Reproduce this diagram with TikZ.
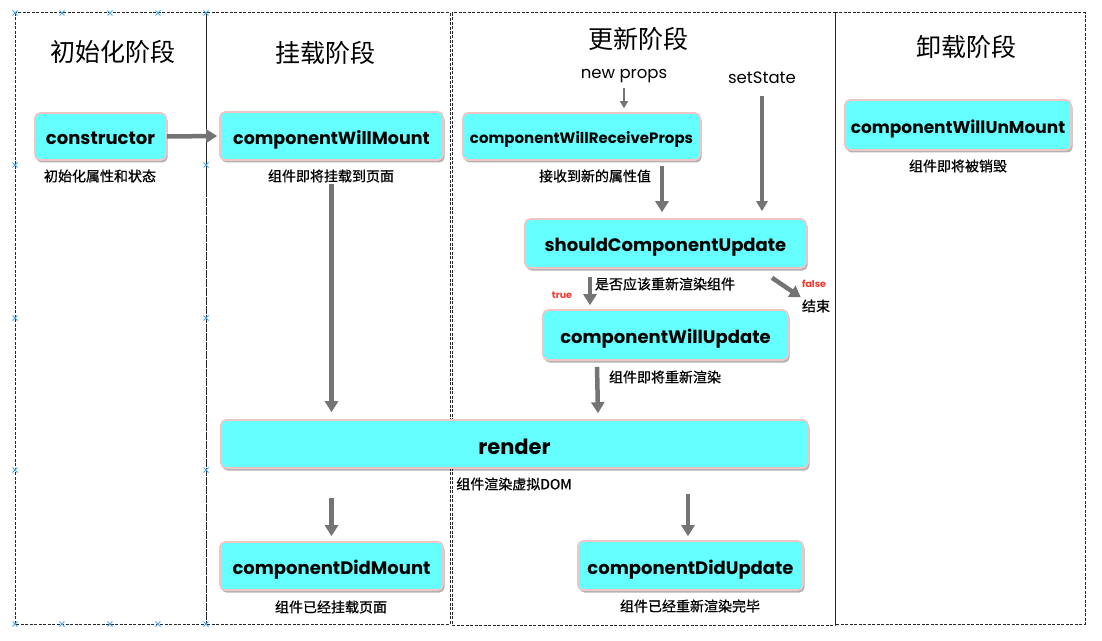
\documentclass[tikz,border=0pt]{standalone}
\usepackage{fontspec}
\setmainfont{Liberation Sans}
\newfontfamily\nodefont{Poppins}
\newfontfamily\cjk{Noto Sans CJK SC}[FakeBold=0.7]
\newfontfamily\cjktitle{Noto Sans CJK SC}
\usetikzlibrary{arrows.meta,shadows,calc}
\definecolor{boxcyan}{HTML}{66FFFF}
\definecolor{boxpink}{HTML}{F2C4C4}
\definecolor{arrgray}{HTML}{747474}
\definecolor{falsered}{HTML}{F03A2E}
\definecolor{handleblue}{HTML}{4AA8E8}
\tikzset{
  box/.style={rectangle, rounded corners=5bp, fill=boxcyan, draw=boxpink, line width=1.6bp,
    inner sep=0pt, text height=17bp, text depth=0bp,
    drop shadow={shadow xshift=1.5bp, shadow yshift=-2.5bp, fill=black, opacity=0.3}},
  lbl/.style={inner sep=0pt, font=\cjk\fontsize{14bp}{16bp}\selectfont},
  title/.style={inner sep=0pt, font=\cjktitle\fontsize{25bp}{28bp}\selectfont},
  src/.style={inner sep=0pt, font=\nodefont\fontsize{16.5bp}{18bp}\selectfont},
  tf/.style={inner sep=0pt, text=falsered, font=\nodefont\bfseries\fontsize{9.5bp}{10bp}\selectfont},
  panel/.style={draw=black!85, line width=1bp, dash pattern=on 3bp off 1.5bp},
  arr/.style={draw=arrgray, line width=4.5bp, -{Triangle[width=13bp,length=11bp]}},
  thinarr/.style={draw=arrgray, line width=2.2bp, -{Triangle[width=8bp,length=7bp]}},
  midarr/.style={draw=arrgray, line width=3.2bp, -{Triangle[width=11bp,length=10bp]}},
  handle/.style={draw=handleblue, line width=1bp},
}
\begin{document}
\begin{tikzpicture}[x=1bp,y=-1bp]
\useasboundingbox (0,0) rectangle (1102,641);
\fill[white] (0,0) rectangle (1102,641);

% panels
\draw[panel] (15,13) rectangle (206,624);
\draw[panel] (206,13) rectangle (450,624);
\draw[panel] (452,13) rectangle (835,625);
\draw[panel] (835,13) rectangle (1085,624);

% selection handles
\foreach \p in {(15,13),(62,13),(110,13),(158,13),(206,13),(15,165),(206,165),(15,318),(206,318),(15,470),(206,470),(15,624),(62,624),(110,624),(158,624),(206,624)}{
  \draw[handle] \p ++(-2.5,-2.5) -- ++(5,5) \p ++(-2.5,2.5) -- ++(5,-5);
}

% titles
\node[title] (t1) at (113,52) {初始化阶段};
\node[title] (t2) at (325,53) {挂载阶段};
\node[title] (t3) at (638,39) {更新阶段};
\node[title] (t4) at (966,47) {卸载阶段};

% boxes
\node[box, minimum width=131bp, minimum height=47bp, font=\nodefont\bfseries\fontsize{18bp}{20bp}\selectfont] (ctor) at (100.5,136.5) {constructor};
\node[box, minimum width=223bp, minimum height=48bp, font=\nodefont\bfseries\fontsize{17.5bp}{20bp}\selectfont] (cwm) at (331.5,136) {componentWillMount};
\node[box, minimum width=237bp, minimum height=47bp, font=\nodefont\bfseries\fontsize{15bp}{18bp}\selectfont, text height=15bp] (cwrp) at (581.5,136.5) {componentWillReceiveProps};
\node[box, minimum width=281bp, minimum height=49bp, font=\nodefont\bfseries\fontsize{18bp}{20bp}\selectfont] (scu) at (665.5,243.5) {shouldComponentUpdate};
\node[box, minimum width=245bp, minimum height=50bp, font=\nodefont\bfseries\fontsize{18bp}{20bp}\selectfont] (cwu) at (665.5,335) {componentWillUpdate};
\node[box, minimum width=587bp, minimum height=48bp, font=\nodefont\bfseries\fontsize{21bp}{24bp}\selectfont, text height=20bp] (render) at (514.5,444) {render};
\node[box, minimum width=223bp, minimum height=48bp, font=\nodefont\bfseries\fontsize{18bp}{20bp}\selectfont] (cdm) at (331.5,566) {componentDidMount};
\node[box, minimum width=225bp, minimum height=49bp, font=\nodefont\bfseries\fontsize{18bp}{20bp}\selectfont] (cdu) at (690.5,565.5) {componentDidUpdate};
\node[box, minimum width=226bp, minimum height=50bp, font=\nodefont\bfseries\fontsize{17bp}{20bp}\selectfont] (cwun) at (958,125) {componentWillUnMount};

% labels
\node[lbl] (l1) at (100,176) {初始化属性和状态};
\node[lbl] (l2) at (331,176) {组件即将挂载到页面};
\node[lbl] (l3) at (595,176) {接收到新的属性值};
\node[lbl] (l4) at (665,284) {是否应该重新渲染组件};
\node[lbl] (l5) at (665,377) {组件即将重新渲染};
\node[lbl] (l6) at (514,484) {组件渲染虚拟DOM};
\node[lbl] (l7) at (331,607) {组件已经挂载页面};
\node[lbl] (l8) at (690,606) {组件已经重新渲染完毕};
\node[lbl] (l9) at (958,166) {组件即将被销毁};
\node[lbl] (end) at (816,306) {结束};
\node[tf] (tt) at (562,295) {true};
\node[tf] (ff) at (814,284) {false};

% sources
\node[src] (np) at (624,76) {new props};
\node[src] (ss) at (762,78) {setState};

% arrows
\draw[arr] (ctor.east) -- ($(cwm.west)+(-2,0)$);
\draw[arr] ($(cwm.south)+(0,23)$) -- ($(cwm.south |- render.north)+(0,-7)$);
\draw[thinarr] ($(np.south)+(0,5)$) -- ($(np.south |- cwrp.north)+(0,-4)$);
\draw[midarr] ($(ss.south)+(0,12)$) -- ($(ss.south |- scu.north)+(0,-7)$);
\draw[arr] ($(cwrp.south)+(80.5,5)$) -- ($(cwrp.south |- scu.north)+(80.5,-6)$);
\draw[arr] ($(scu.south)+(-75.5,8)$) -- ($(scu.south |- cwu.north)+(-75.5,-4)$);
\draw[arr] ($(scu.south)+(106.5,9)$) -- ($(end.north west)+(-1,-2)$);
\draw[arr] ($(cwu.south)+(-68.5,6)$) -- ($(cwu.south |- render.north)+(-67.5,-6)$);
\draw[arr] ($(render.south -| cdm.north)+(0,29)$) -- ($(cdm.north)+(0,-5)$);
\draw[arr] ($(render.south -| cdu.north)+(-2.5,25)$) -- ($(cdu.north)+(-2.5,-4)$);
\end{tikzpicture}
\end{document}
